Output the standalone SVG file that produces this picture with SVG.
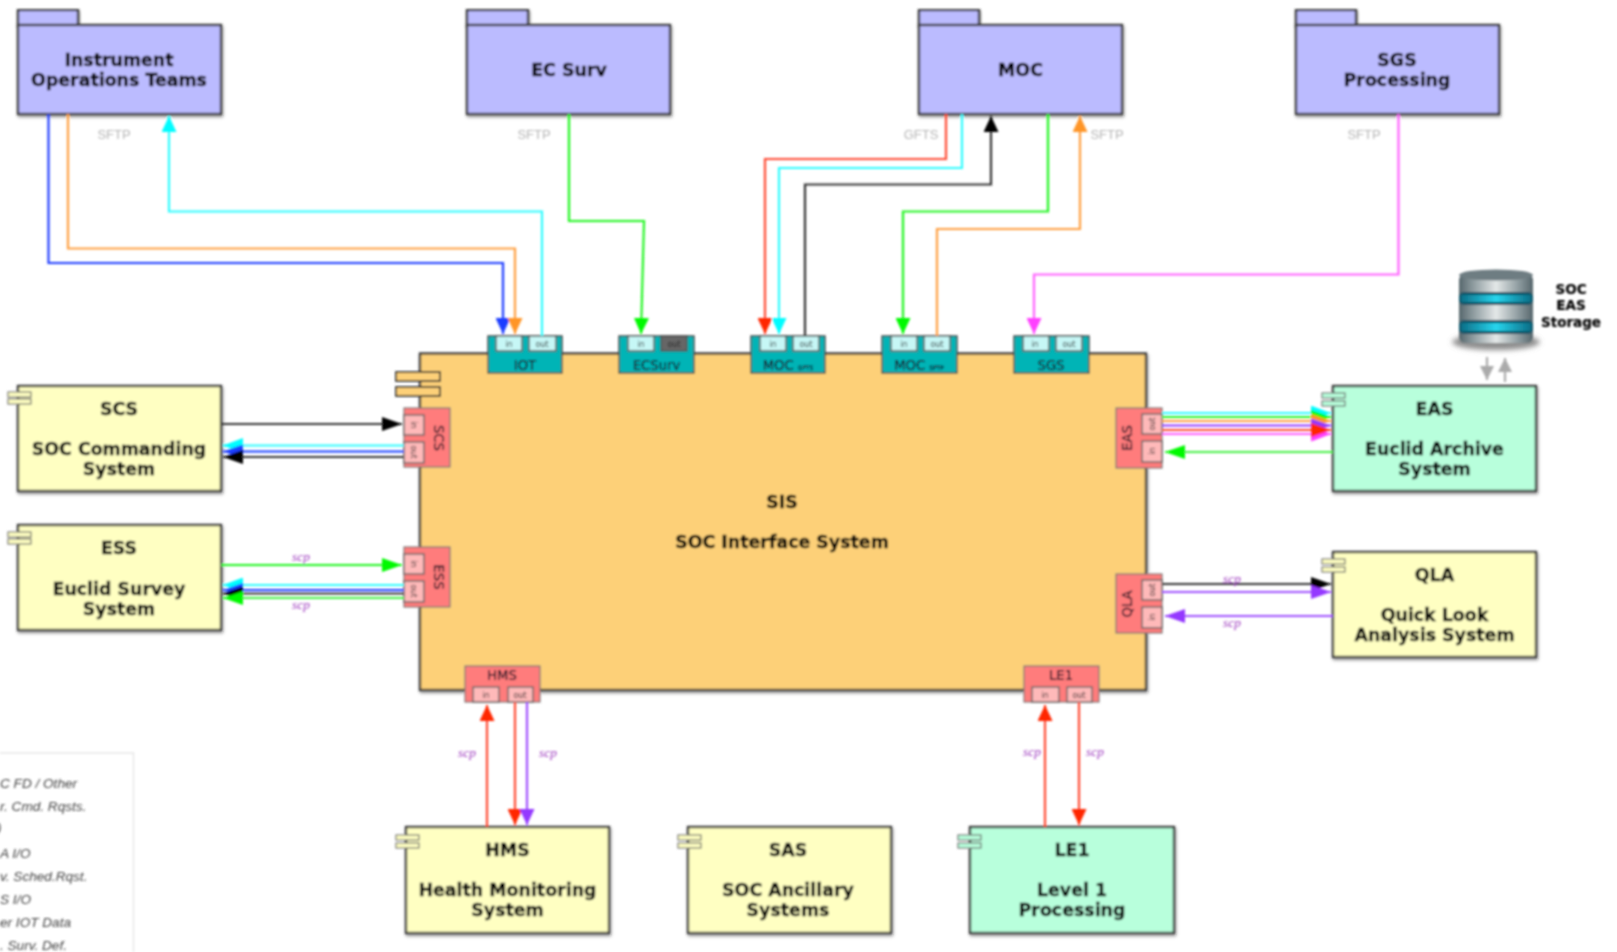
<svg xmlns="http://www.w3.org/2000/svg" width="1617" height="952" viewBox="0 0 1617 952">
<style>
text{font-family:"DejaVu Sans","Liberation Sans",sans-serif;fill:#000;text-anchor:middle}
.t{font-weight:bold;font-size:17.4px;stroke:#000;stroke-width:.35}
.st{font-weight:bold;font-size:13.5px;stroke:#000;stroke-width:.2}
.p{font-size:13.2px;fill:#112;stroke:#112;stroke-width:.2}
.s{font-size:8px;fill:#222}
.f{font-family:"Liberation Sans",sans-serif;font-size:13px;fill:#b5b5b5}
.scp{font-family:"Liberation Serif",serif;font-style:italic;font-size:13.5px;fill:#a040c0}
.lg{font-family:"Liberation Sans",sans-serif;font-style:italic;font-size:13.6px;fill:#444;text-anchor:start}
.b{stroke:#3e3e3e;stroke-width:2.4;filter:url(#sh)}
.fo{fill:#bbbbff}.y{fill:#ffffc2}.g{fill:#b8ffdc}
.tb{stroke:#666;stroke-width:1.1}
.pr{fill:#ff7b7b;stroke:#777;stroke-width:1.2}
.pi{fill:#ffb9b9;stroke:#666;stroke-width:1.4}
.tl{fill:#00b4b6;stroke:#444;stroke-width:1.4}
.ti{fill:#c6f7f6;stroke:#555;stroke-width:1.4}
#connectors path{fill:none;stroke-width:2.2}
</style>
<defs>
<filter id="blur" filterUnits="userSpaceOnUse" x="0" y="0" width="1617" height="952"><feGaussianBlur stdDeviation="0.9"/></filter>
<filter id="sh" x="-5%" y="-5%" width="110%" height="115%"><feDropShadow dx="1" dy="2" stdDeviation="1.5" flood-color="#000" flood-opacity="0.4"/></filter>
<filter id="soft" x="-20%" y="-50%" width="140%" height="200%"><feGaussianBlur stdDeviation="2.500"/></filter>
<marker id="mk" markerUnits="userSpaceOnUse" markerWidth="16" markerHeight="15" refX="16" refY="7.500" orient="auto"><path d="M0 0L16 7.500L0 15z" fill="#000"/></marker>
<marker id="mb" markerUnits="userSpaceOnUse" markerWidth="16" markerHeight="15" refX="16" refY="7.500" orient="auto"><path d="M0 0L16 7.500L0 15z" fill="#1c3cff"/></marker>
<marker id="mo" markerUnits="userSpaceOnUse" markerWidth="16" markerHeight="15" refX="16" refY="7.500" orient="auto"><path d="M0 0L16 7.500L0 15z" fill="#ff9528"/></marker>
<marker id="mc" markerUnits="userSpaceOnUse" markerWidth="16" markerHeight="15" refX="16" refY="7.500" orient="auto"><path d="M0 0L16 7.500L0 15z" fill="#00fdff"/></marker>
<marker id="mg" markerUnits="userSpaceOnUse" markerWidth="16" markerHeight="15" refX="16" refY="7.500" orient="auto"><path d="M0 0L16 7.500L0 15z" fill="#00f900"/></marker>
<marker id="mr" markerUnits="userSpaceOnUse" markerWidth="16" markerHeight="15" refX="16" refY="7.500" orient="auto"><path d="M0 0L16 7.500L0 15z" fill="#ff2600"/></marker>
<marker id="mm" markerUnits="userSpaceOnUse" markerWidth="16" markerHeight="15" refX="16" refY="7.500" orient="auto"><path d="M0 0L16 7.500L0 15z" fill="#ff40ff"/></marker>
<marker id="mp" markerUnits="userSpaceOnUse" markerWidth="16" markerHeight="15" refX="16" refY="7.500" orient="auto"><path d="M0 0L16 7.500L0 15z" fill="#9437ff"/></marker>
<marker id="hk" markerUnits="userSpaceOnUse" markerWidth="20" markerHeight="14" refX="20" refY="7" orient="auto"><path d="M0 0L20 7L0 14z" fill="#000"/></marker>
<marker id="hb" markerUnits="userSpaceOnUse" markerWidth="20" markerHeight="14" refX="20" refY="7" orient="auto"><path d="M0 0L20 7L0 14z" fill="#1c3cff"/></marker>
<marker id="ho" markerUnits="userSpaceOnUse" markerWidth="20" markerHeight="14" refX="20" refY="7" orient="auto"><path d="M0 0L20 7L0 14z" fill="#ff9528"/></marker>
<marker id="hc" markerUnits="userSpaceOnUse" markerWidth="20" markerHeight="15" refX="20" refY="7.500" orient="auto"><path d="M0 0L20 7.500L0 15z" fill="#00fdff"/></marker>
<marker id="hg" markerUnits="userSpaceOnUse" markerWidth="20" markerHeight="14" refX="20" refY="7" orient="auto"><path d="M0 0L20 7L0 14z" fill="#00f900"/></marker>
<marker id="hr" markerUnits="userSpaceOnUse" markerWidth="20" markerHeight="14" refX="20" refY="7" orient="auto"><path d="M0 0L20 7L0 14z" fill="#ff2600"/></marker>
<marker id="hm" markerUnits="userSpaceOnUse" markerWidth="20" markerHeight="15" refX="20" refY="7.500" orient="auto"><path d="M0 0L20 7.500L0 15z" fill="#ff40ff"/></marker>
<marker id="hp" markerUnits="userSpaceOnUse" markerWidth="20" markerHeight="14" refX="20" refY="7" orient="auto"><path d="M0 0L20 7L0 14z" fill="#9437ff"/></marker>
<marker id="ma" markerUnits="userSpaceOnUse" markerWidth="14" markerHeight="14" refX="14" refY="7" orient="auto"><path d="M0 0L14 7L0 14z" fill="#aaa"/></marker>
<linearGradient id="cy" x1="0" x2="1" y1="0" y2="0"><stop offset="0" stop-color="#56666c"/><stop offset=".18" stop-color="#8a989c"/><stop offset=".5" stop-color="#e4e8e8"/><stop offset=".82" stop-color="#8a989c"/><stop offset="1" stop-color="#55656b"/></linearGradient>
<linearGradient id="bd" x1="0" x2="1" y1="0" y2="0"><stop offset="0" stop-color="#0c6f88"/><stop offset=".5" stop-color="#27d6ee"/><stop offset="1" stop-color="#0c6f88"/></linearGradient>
</defs>
<g filter="url(#blur)">
<g id="legend">
<path d="M0 753H133.500V952" fill="none" stroke="#e6e6e6" stroke-width="1.500"/>
<text class="lg" x="0" y="788">C FD / Other</text>
<text class="lg" x="0" y="811">r. Cmd. Rqsts.</text>
<text class="lg" x="-3" y="832">)</text>
<text class="lg" x="0" y="858">A I/O</text>
<text class="lg" x="0" y="881">v. Sched.Rqst.</text>
<text class="lg" x="0" y="904">S I/O</text>
<text class="lg" x="0" y="927">er IOT Data</text>
<text class="lg" x="0" y="950">. Surv. Def.</text>
</g>
<g id="sis">
<rect class="b" x="420" y="353.500" width="726" height="336.500" fill="#fdd078"/>
<rect class="tb" x="396" y="372" width="44" height="9" fill="#fdd078" stroke="#333" style="stroke:#333;stroke-width:1.8"/>
<rect class="tb" x="396" y="387" width="44" height="9" fill="#fdd078" style="stroke:#333;stroke-width:1.8"/>
<text class="t" x="782" y="507.500">SIS</text>
<text class="t" x="782" y="547.500">SOC Interface System</text>
</g>
<g id="inst"><rect class="b fo" x="18" y="10" width="60" height="16"/><rect class="b fo" x="18" y="25" width="203" height="89"/><text class="t" x="119" y="66">Instrument</text><text class="t" x="119" y="86">Operations Teams</text></g>
<g id="ecsurv"><rect class="b fo" x="467" y="10" width="61" height="16"/><rect class="b fo" x="467" y="25" width="203" height="89"/><text class="t" x="569" y="75.500">EC Surv</text></g>
<g id="moc"><rect class="b fo" x="919" y="10" width="60" height="16"/><rect class="b fo" x="919" y="25" width="203" height="89"/><text class="t" x="1020.500" y="75.500">MOC</text></g>
<g id="sgs"><rect class="b fo" x="1296" y="10" width="60" height="16"/><rect class="b fo" x="1296" y="25" width="203" height="89"/><text class="t" x="1397" y="66">SGS</text><text class="t" x="1397" y="86">Processing</text></g>
<g id="scs"><rect class="b y" x="18" y="386" width="203" height="105"/><rect class="tb y" x="8" y="392" width="23" height="5"/><rect class="tb y" x="8" y="399" width="23" height="5"/><text class="t" x="119" y="414.500">SCS</text><text class="t" x="119" y="455">SOC Commanding</text><text class="t" x="119" y="474.500">System</text></g>
<g id="ess"><rect class="b y" x="18" y="525" width="203" height="105"/><rect class="tb y" x="8" y="532" width="23" height="5"/><rect class="tb y" x="8" y="539" width="23" height="5"/><text class="t" x="119" y="554">ESS</text><text class="t" x="119" y="594.500">Euclid Survey</text><text class="t" x="119" y="614.500">System</text></g>
<g id="eas"><rect class="b g" x="1333" y="386" width="203" height="105"/><rect class="tb g" x="1322" y="393" width="23" height="5"/><rect class="tb g" x="1322" y="401" width="23" height="5"/><text class="t" x="1434.500" y="414.500">EAS</text><text class="t" x="1434.500" y="455">Euclid Archive</text><text class="t" x="1434.500" y="474.500">System</text></g>
<g id="qla"><rect class="b y" x="1333" y="552" width="203" height="105"/><rect class="tb y" x="1322" y="559" width="23" height="5"/><rect class="tb y" x="1322" y="567" width="23" height="5"/><text class="t" x="1434.500" y="581">QLA</text><text class="t" x="1434.500" y="620.500">Quick Look</text><text class="t" x="1434.500" y="640.500">Analysis System</text></g>
<g id="hms"><rect class="b y" x="406" y="827" width="203" height="106"/><rect class="tb y" x="396" y="835" width="23" height="5"/><rect class="tb y" x="396" y="843" width="23" height="5"/><text class="t" x="507.500" y="856">HMS</text><text class="t" x="507.500" y="895.500">Health Monitoring</text><text class="t" x="507.500" y="916">System</text></g>
<g id="sas"><rect class="b y" x="688" y="827" width="203" height="106"/><rect class="tb y" x="678" y="835" width="23" height="5"/><rect class="tb y" x="678" y="843" width="23" height="5"/><text class="t" x="788" y="856">SAS</text><text class="t" x="788" y="895.500">SOC Ancillary</text><text class="t" x="788" y="916">Systems</text></g>
<g id="le1"><rect class="b g" x="970" y="827" width="204" height="106"/><rect class="tb g" x="958" y="835" width="23" height="5"/><rect class="tb g" x="958" y="843" width="23" height="5"/><text class="t" x="1072" y="856">LE1</text><text class="t" x="1072" y="895.500">Level 1</text><text class="t" x="1072" y="916">Processing</text></g>
<g id="storage">
<ellipse cx="1496" cy="342" rx="44" ry="8" fill="#8d8d8d" filter="url(#soft)"/>
<rect x="1459" y="274" width="74" height="69" rx="6" fill="url(#cy)"/>
<ellipse cx="1496" cy="275" rx="37" ry="5.500" fill="#6e7d82"/>
<rect x="1459" y="292" width="74" height="13" rx="5" fill="#0b5568"/>
<rect x="1461" y="295" width="70" height="7" fill="url(#bd)"/>
<rect x="1459" y="320" width="74" height="14" rx="5" fill="#0b5568"/>
<rect x="1461" y="323" width="70" height="8" fill="url(#bd)"/>
<text class="st" x="1571" y="293.500">SOC</text><text class="st" x="1571" y="309.500">EAS</text><text class="st" x="1571" y="326.500">Storage</text>
</g>
<g id="port-iot"><rect class="tl" x="488" y="336" width="74" height="37"/><rect class="ti" x="496" y="336" width="26" height="15"/><rect class="ti" x="529" y="336" width="27" height="15"/><text class="s" x="509" y="347">in</text><text class="s" x="542" y="347">out</text><text class="p" x="525" y="370">IOT</text></g>
<g id="port-ecsurv"><rect class="tl" x="619" y="336" width="75" height="37"/><rect class="ti" x="628" y="336" width="26" height="15"/><rect x="661" y="336" width="26" height="15" fill="#666" stroke="#444"/><text class="s" x="641" y="347">in</text><text class="s" x="674" y="347">out</text><text class="p" x="656.500" y="370">ECSurv</text></g>
<g id="port-mocg"><rect class="tl" x="751" y="336" width="74" height="37"/><rect class="ti" x="760" y="336" width="26" height="15"/><rect class="ti" x="793" y="336" width="26" height="15"/><text class="s" x="773" y="347">in</text><text class="s" x="806" y="347">out</text><text class="p" x="788" y="370">MOC <tspan font-size="6">GFTS</tspan></text></g>
<g id="port-mocs"><rect class="tl" x="882" y="336" width="75" height="37"/><rect class="ti" x="891" y="336" width="26" height="15"/><rect class="ti" x="924" y="336" width="26" height="15"/><text class="s" x="904" y="347">in</text><text class="s" x="937" y="347">out</text><text class="p" x="919" y="370">MOC <tspan font-size="6">SFTP</tspan></text></g>
<g id="port-sgs"><rect class="tl" x="1014" y="336" width="75" height="37"/><rect class="ti" x="1023" y="336" width="26" height="15"/><rect class="ti" x="1056" y="336" width="26" height="15"/><text class="s" x="1035" y="347">in</text><text class="s" x="1069" y="347">out</text><text class="p" x="1051" y="370">SGS</text></g>
<g id="port-scs"><rect class="pr" x="404" y="408" width="46" height="59"/><rect class="pi" x="404" y="415" width="20" height="20"/><rect class="pi" x="404" y="442" width="20" height="21"/><text class="s" transform="translate(411,425) rotate(90)">in</text><text class="s" transform="translate(411,452) rotate(90)">out</text><text class="p" transform="translate(434,438) rotate(90)">SCS</text></g>
<g id="port-ess"><rect class="pr" x="404" y="547" width="46" height="60"/><rect class="pi" x="404" y="554" width="20" height="20"/><rect class="pi" x="404" y="581" width="20" height="21"/><text class="s" transform="translate(411,564) rotate(90)">in</text><text class="s" transform="translate(411,591) rotate(90)">out</text><text class="p" transform="translate(434,577) rotate(90)">ESS</text></g>
<g id="port-eas"><rect class="pr" x="1116" y="408" width="46" height="60"/><rect class="pi" x="1142" y="414" width="20" height="20"/><rect class="pi" x="1142" y="441" width="20" height="21"/><text class="s" transform="translate(1155,424) rotate(-90)">out</text><text class="s" transform="translate(1155,451) rotate(-90)">in</text><text class="p" transform="translate(1132,438) rotate(-90)">EAS</text></g>
<g id="port-qla"><rect class="pr" x="1116" y="574" width="46" height="59"/><rect class="pi" x="1142" y="580" width="20" height="20"/><rect class="pi" x="1142" y="607" width="20" height="21"/><text class="s" transform="translate(1155,590) rotate(-90)">out</text><text class="s" transform="translate(1155,617) rotate(-90)">in</text><text class="p" transform="translate(1132,604) rotate(-90)">QLA</text></g>
<g id="port-hms"><rect class="pr" x="465" y="666" width="75" height="36"/><rect class="pi" x="473" y="687" width="26" height="15"/><rect class="pi" x="508" y="687" width="25" height="15"/><text class="s" x="486" y="698">in</text><text class="s" x="520" y="698">out</text><text class="p" x="502" y="680">HMS</text></g>
<g id="port-le1"><rect class="pr" x="1024" y="666" width="75" height="36"/><rect class="pi" x="1032" y="687" width="27" height="15"/><rect class="pi" x="1067" y="687" width="25" height="15"/><text class="s" x="1045" y="698">in</text><text class="s" x="1079" y="698">out</text><text class="p" x="1061" y="680">LE1</text></g>
<g id="connectors">
<path d="M48.500 114V263H503V334" stroke="#1c3cff" marker-end="url(#mb)"/>
<path d="M68 114V248.500H515V334" stroke="#ff9f40" marker-end="url(#mo)"/>
<path d="M542 336V211.500H169V116" stroke="#2efcff" marker-end="url(#mc)"/>
<path d="M569 114V221H644L641 334" stroke="#22f522" marker-end="url(#mg)"/>
<path d="M946 114V159H765V334" stroke="#ff4a30" marker-end="url(#mr)"/>
<path d="M962 114V168H779V334" stroke="#2efcff" marker-end="url(#mc)"/>
<path d="M805 336V184.500H991V116" stroke="#333" marker-end="url(#mk)"/>
<path d="M1048 114V211.500H903V334" stroke="#22f522" marker-end="url(#mg)"/>
<path d="M937 336V229H1080V116" stroke="#ff9f40" marker-end="url(#mo)"/>
<path d="M1398.500 114V274.500H1034V334" stroke="#ff60ff" marker-end="url(#mm)"/>
<path d="M221 424H402" stroke="#333" marker-end="url(#hk)"/>
<path d="M404 445.500H223" stroke="#2efcff" marker-end="url(#hc)"/>
<path d="M404 451.500H223" stroke="#1c3cff" marker-end="url(#hb)"/>
<path d="M404 457H223" stroke="#333" marker-end="url(#hk)"/>
<path d="M221 565H402" stroke="#22f522" marker-end="url(#hg)"/>
<path d="M404 585H223" stroke="#2efcff" marker-end="url(#hc)"/>
<path d="M404 590H223" stroke="#1c3cff" marker-end="url(#hb)"/>
<path d="M404 593.500H223" stroke="#333" marker-end="url(#hk)"/>
<path d="M404 598H223" stroke="#44f044" marker-end="url(#hg)"/>
<path d="M1162 413H1331" stroke="#2efcff" marker-end="url(#hc)"/>
<path d="M1162 434H1331" stroke="#ff60ff" marker-end="url(#hm)"/>
<path d="M1162 417H1331" stroke="#22f522" marker-end="url(#hg)"/>
<path d="M1162 421H1331" stroke="#ff9f40" marker-end="url(#ho)"/>
<path d="M1162 425.500H1331" stroke="#9437ff" marker-end="url(#hp)"/>
<path d="M1162 430H1331" stroke="#ff4a30" marker-end="url(#hr)"/>
<path d="M1333 452H1165" stroke="#44f044" marker-end="url(#hg)"/>
<path d="M1162 584H1331" stroke="#333" marker-end="url(#hk)"/>
<path d="M1162 592H1331" stroke="#a050ff" marker-end="url(#hp)"/>
<path d="M1333 616H1165" stroke="#a050ff" marker-end="url(#hp)"/>
<path d="M487 827V705" stroke="#ff4a30" marker-end="url(#mr)"/>
<path d="M515 702V825" stroke="#ff4a30" marker-end="url(#mr)"/>
<path d="M527 702V825" stroke="#a050ff" marker-end="url(#mp)"/>
<path d="M1045 827V705" stroke="#ff4a30" marker-end="url(#mr)"/>
<path d="M1079 702V825" stroke="#ff4a30" marker-end="url(#mr)"/>
<path d="M1487 357V380" stroke="#aaa" stroke-width="3" marker-end="url(#ma)"/>
<path d="M1505 382V358" stroke="#aaa" stroke-width="3" marker-end="url(#ma)"/>
</g>
<g id="labels">
<text class="f" x="114" y="139">SFTP</text>
<text class="f" x="534" y="139">SFTP</text>
<text class="f" x="921" y="139">GFTS</text>
<text class="f" x="1107" y="139">SFTP</text>
<text class="f" x="1364" y="139">SFTP</text>
<text class="scp" x="301" y="561">scp</text>
<text class="scp" x="301" y="609">scp</text>
<text class="scp" x="1232" y="583">scp</text>
<text class="scp" x="1232" y="627">scp</text>
<text class="scp" x="467" y="757">scp</text>
<text class="scp" x="548" y="757">scp</text>
<text class="scp" x="1032" y="756">scp</text>
<text class="scp" x="1095" y="756">scp</text>
</g>
</g>
</svg>
